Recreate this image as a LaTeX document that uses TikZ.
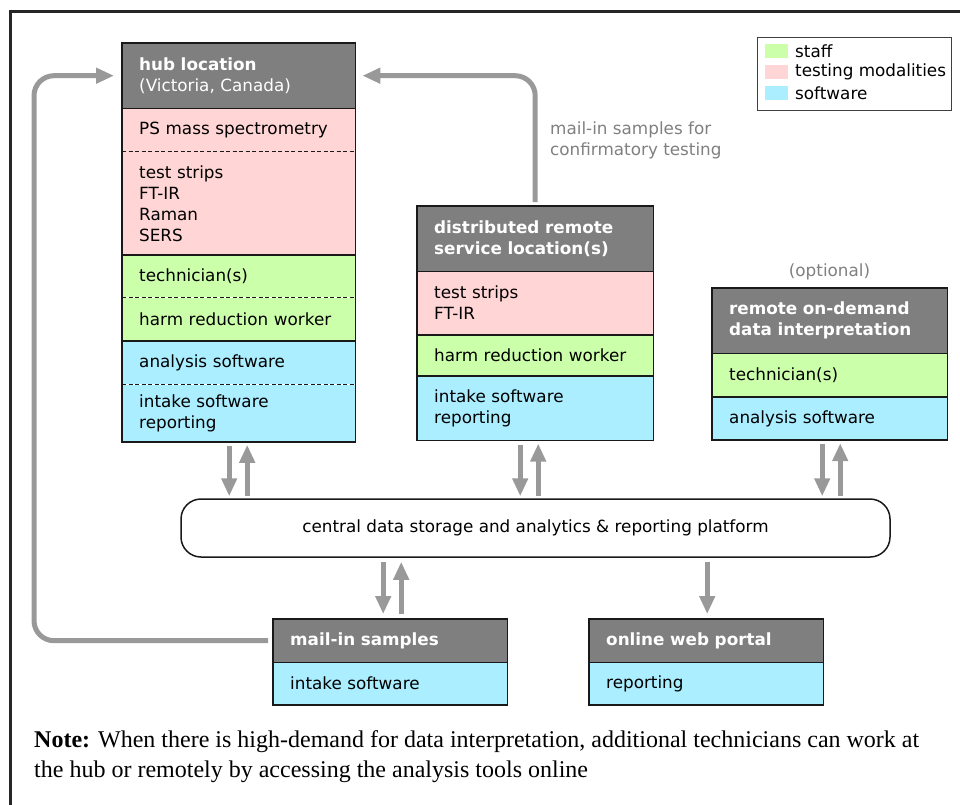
\documentclass[tikz,border=0pt]{standalone}
\usepackage{fontspec}
\setmainfont{Liberation Serif}
\newfontfamily\boxfont{DejaVu Sans}
\usetikzlibrary{positioning,arrows.meta,calc}
\definecolor{headgray}{RGB}{127,127,127}
\definecolor{testpink}{RGB}{255,213,213}
\definecolor{staffgreen}{RGB}{204,255,170}
\definecolor{softblue}{RGB}{170,238,255}
\definecolor{flowgray}{RGB}{153,153,153}
\definecolor{labelgray}{RGB}{128,128,128}
\newcommand\cellfont{\boxfont\fontsize{16.8}{21}\selectfont}
\newcommand\notefont{\fontsize{24}{30}\selectfont}
\begin{document}
\begin{tikzpicture}[x=1pt, y=-1pt,
		cell/.style={rectangle, anchor=north, inner xsep=17pt, inner ysep=0pt, align=left, font=\cellfont},
		head/.style={cell, fill=headgray, text=white},
		test/.style={cell, fill=testpink},
		staff/.style={cell, fill=staffgreen},
		soft/.style={cell, fill=softblue},
		rim/.style={draw=black!90, line width=1.5pt},
		dsep/.style={draw=black!90, line width=1.2pt, dash pattern=on 4pt off 2.5pt},
		flow/.style={draw=flowgray, line width=5pt, -{Triangle[length=18pt,width=15pt]}},
		gnote/.style={inner sep=0pt, align=left, font=\cellfont, text=labelgray}]
	\useasboundingbox (0,0) rectangle (960,804);
	\begin{scope}
		\clip (0,0) rectangle (960,804);
		\draw[line width=3pt, draw=black!85] (10,830) -- (10,11) -- (990,11);
	\end{scope}
	% hub location
	\node[head, text width=199pt, minimum height=65pt, anchor=north west] (hub0) at (122,43) {\textbf{hub location}\\(Victoria, Canada)};
	\node[test, text width=199pt, minimum height=43pt, below=0pt of hub0] (hub1) {PS mass spectrometry};
	\node[test, text width=199pt, minimum height=103pt, below=0pt of hub1] (hub2) {test strips\\FT-IR\\Raman\\SERS};
	\node[staff, text width=199pt, minimum height=42pt, below=0pt of hub2] (hub3) {technician(s)};
	\node[staff, text width=199pt, minimum height=43pt, below=0pt of hub3] (hub4) {harm reduction worker};
	\node[soft, text width=199pt, minimum height=43pt, below=0pt of hub4] (hub5) {analysis software};
	\node[soft, text width=199pt, minimum height=57pt, below=0pt of hub5] (hub6) {intake software\\reporting};
	\foreach \i in {1,3,5} \draw[rim] (hub\i.north west) -- (hub\i.north east);
	\foreach \i in {2,4,6} \draw[dsep] (hub\i.north west) -- (hub\i.north east);
	\draw[rim] (hub0.north west) rectangle (hub6.south east);
	% distributed remote service
	\node[head, text width=202pt, minimum height=65pt, anchor=north west] (dist0) at (417,206) {\textbf{distributed remote}\\\textbf{service location(s)}};
	\node[test, text width=202pt, minimum height=63pt, below=0pt of dist0] (dist1) {test strips\\FT-IR};
	\node[staff, text width=202pt, minimum height=41pt, below=0pt of dist1] (dist2) {harm reduction worker};
	\node[soft, text width=202pt, minimum height=64pt, below=0pt of dist2] (dist3) {intake software\\reporting};
	\foreach \i in {1,2,3} \draw[rim] (dist\i.north west) -- (dist\i.north east);
	\draw[rim] (dist0.north west) rectangle (dist3.south east);
	% remote interpretation
	\node[head, text width=201pt, minimum height=65pt, anchor=north west] (rem0) at (712,288) {\textbf{remote on-demand}\\\textbf{data interpretation}};
	\node[staff, text width=201pt, minimum height=43pt, below=0pt of rem0] (rem1) {technician(s)};
	\node[soft, text width=201pt, minimum height=43pt, below=0pt of rem1] (rem2) {analysis software};
	\foreach \i in {1,2} \draw[rim] (rem\i.north west) -- (rem\i.north east);
	\draw[rim] (rem0.north west) rectangle (rem2.south east);
	\node[gnote] (opt) at (829.5,272) {(optional)};
	% mail-in and portal
	\node[head, text width=200pt, minimum height=43pt, anchor=north west] (mail0) at (273,619) {\textbf{mail-in samples}};
	\node[soft, text width=200pt, minimum height=42pt, below=0pt of mail0] (mail1) {intake software};
	\draw[rim] (mail1.north west) -- (mail1.north east);
	\draw[rim] (mail0.north west) rectangle (mail1.south east);
	\node[head, text width=200pt, minimum height=43pt, anchor=north west] (web0) at (589,619) {\textbf{online web portal}};
	\node[soft, text width=200pt, minimum height=42pt, below=0pt of web0] (web1) {reporting};
	\draw[rim] (web1.north west) -- (web1.north east);
	\draw[rim] (web0.north west) rectangle (web1.south east);
	% platform
	\node[rim, rectangle, rounded corners=20pt, minimum width=709pt, minimum height=58pt, font=\cellfont] (plat) at (535.5,528) {central data storage and analytics \& reporting platform};
	\foreach \b/\dx in {hub6/-9.5, dist3/-15, rem2/-7.5} {
		\draw[flow] ($(\b.south)+(\dx,4)$) -- ($(\b.south |- plat.north)+(\dx,-2)$);
		\draw[flow] ($(\b.south |- plat.north)+(\dx+18,-2)$) -- ($(\b.south)+(\dx+18,3)$);
	}
	\draw[flow] ($(mail0.north |- plat.south)+(-7,4)$) -- ($(mail0.north)+(-7,-5)$);
	\draw[flow] ($(mail0.north)+(11,-5)$) -- ($(mail0.north |- plat.south)+(11,4)$);
	\draw[flow] ($(web0.north |- plat.south)+(1,4)$) -- ($(web0.north)+(1,-5)$);
	% sample loops
	\draw[flow, rounded corners=20pt] ($(mail0.west)+(-5,0)$) -- ++(-234,0) |- ($(hub0.west)+(-8,0)$);
	\draw[flow, rounded corners=20pt] ($(dist0.north)+(0,-4)$) |- ($(hub0.east)+(7,0)$);
	\node[gnote, anchor=west] (mailnote) at (550,140) {mail-in samples for\\confirmatory testing};
	% legend
	\node[draw=black!75, line width=1pt, minimum width=194pt, minimum height=73pt, anchor=north west] (legend) at (757,37) {};
	\foreach \c/\t [count=\i] in {staffgreen/staff, testpink/testing modalities, softblue/software} {
		\fill[\c] (765,23+21*\i) rectangle (788,37+21*\i);
		\node[anchor=west, inner sep=0pt, font=\cellfont] (key\i) at (795,30+21*\i) {\t};
	}
	% note
	\node[anchor=west, inner sep=0pt, align=left, font=\notefont] (note) at (34,757) {\textbf{Note:} When there is high-demand for data interpretation, additional technicians can work at\\the hub or remotely by accessing the analysis tools online};
\end{tikzpicture}
\end{document}
